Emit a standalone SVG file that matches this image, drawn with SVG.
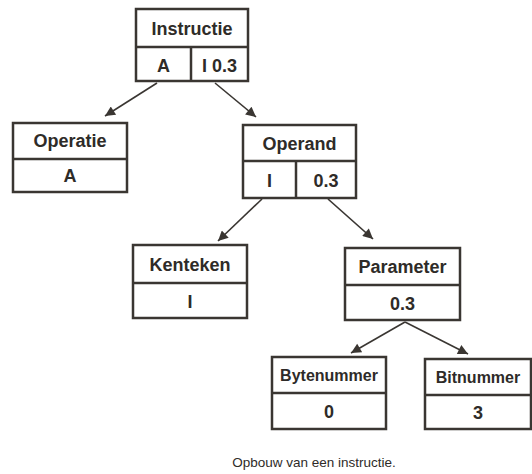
<svg xmlns="http://www.w3.org/2000/svg" width="532" height="474" viewBox="0 0 532 474">
<defs>
<marker id="ah" viewBox="0 0 10 10" refX="10" refY="5" markerWidth="12" markerHeight="10" markerUnits="userSpaceOnUse" orient="auto">
<path d="M0,0 L10,5 L0,10 z" fill="#3a3632"/>
</marker>
<style>
.box{fill:#fff;stroke:#3a3632;stroke-width:2.5}
.div{stroke:#3a3632;stroke-width:2.5;fill:none}
.t{font-family:"Liberation Sans",Arial,sans-serif;font-weight:bold;fill:#2e2b28;text-anchor:middle}
.h{font-size:18px}
.s{font-size:16px}
.arr{stroke:#3a3632;stroke-width:1.6;fill:none;marker-end:url(#ah)}
.cap{font-family:"Liberation Sans",Arial,sans-serif;font-size:13.5px;fill:#2e2b28;text-anchor:middle}
</style>
</defs>
<rect width="532" height="474" fill="#fff"/>
<g id="connectors">
<line class="arr" x1="157" y1="83" x2="105" y2="116"/>
<line class="arr" x1="215" y1="83" x2="256" y2="117"/>
<line class="arr" x1="262" y1="199" x2="218" y2="241"/>
<line class="arr" x1="328" y1="199" x2="373" y2="239"/>
<line class="arr" x1="405" y1="322" x2="351" y2="353"/>
<line class="arr" x1="405" y1="322" x2="468" y2="354"/>
</g>
<g id="instructie">
<rect class="box" x="136" y="9" width="112" height="72"/>
<line class="div" x1="136" y1="47" x2="248" y2="47"/>
<line class="div" x1="191" y1="47" x2="191" y2="81"/>
<text class="t h" x="192" y="35">Instructie</text>
<text class="t h" x="163.5" y="72">A</text>
<text class="t h" x="219.5" y="72">I 0.3</text>
</g>
<g id="operatie">
<rect class="box" x="13" y="123" width="114" height="69"/>
<line class="div" x1="13" y1="159" x2="127" y2="159"/>
<text class="t h" x="70" y="147">Operatie</text>
<text class="t h" x="70" y="182">A</text>
</g>
<g id="operand">
<rect class="box" x="243" y="125" width="113" height="73"/>
<line class="div" x1="243" y1="161" x2="356" y2="161"/>
<line class="div" x1="296" y1="161" x2="296" y2="198"/>
<text class="t h" x="299.5" y="150">Operand</text>
<text class="t h" x="269.5" y="187">I</text>
<text class="t h" x="326" y="187">0.3</text>
</g>
<g id="kenteken">
<rect class="box" x="133" y="245" width="114" height="73"/>
<line class="div" x1="133" y1="283" x2="247" y2="283"/>
<text class="t h" x="190" y="271">Kenteken</text>
<text class="t h" x="190" y="308">I</text>
</g>
<g id="parameter">
<rect class="box" x="345" y="248" width="115" height="72"/>
<line class="div" x1="345" y1="285" x2="460" y2="285"/>
<text class="t h" x="402.5" y="273">Parameter</text>
<text class="t h" x="402.5" y="310">0.3</text>
</g>
<g id="bytenummer">
<rect class="box" x="272" y="357" width="114" height="72"/>
<line class="div" x1="272" y1="393" x2="386" y2="393"/>
<text class="t s" x="329" y="381">Bytenummer</text>
<text class="t h" x="329" y="418">0</text>
</g>
<g id="bitnummer">
<rect class="box" x="425" y="359" width="106" height="70"/>
<line class="div" x1="425" y1="395" x2="531" y2="395"/>
<text class="t s" x="478" y="383">Bitnummer</text>
<text class="t h" x="478" y="419">3</text>
</g>
<text class="cap" x="314" y="467">Opbouw van een instructie.</text>
</svg>
